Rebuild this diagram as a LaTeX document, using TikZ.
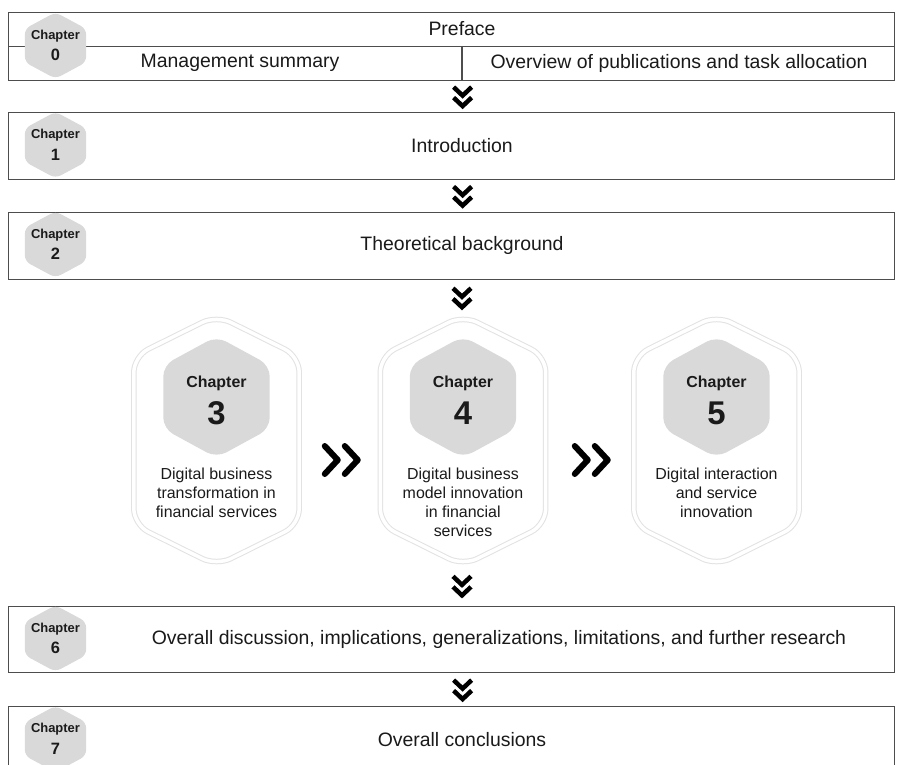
\documentclass[tikz,border=0pt]{standalone}
\usepackage{fontspec}
\setmainfont{Liberation Sans}
\usetikzlibrary{calc}

\definecolor{boxline}{HTML}{4D4D4D}
\definecolor{hexgray}{HTML}{D9D9D9}
\definecolor{halo}{HTML}{E2E2E2}
\definecolor{ink}{HTML}{1A1A1A}

\tikzset{
  chapbox/.style={draw=boxline, line width=1.2bp, inner sep=0, minimum width=886bp, anchor=north west},
  divider/.style={draw=boxline, line width=1.2bp},
  bodytext/.style={text=ink, font=\fontsize{19.5}{22}\selectfont, inner sep=0},
  smallhexnode/.style={inner sep=0, minimum width=61bp, minimum height=66bp},
  innerhexnode/.style={inner sep=0, minimum width=106bp, minimum height=121bp},
  outerhexnode/.style={inner sep=0, minimum width=165bp, minimum height=250bp},
  smallcap/.style={text=ink, font=\bfseries\fontsize{13}{14}\selectfont, inner sep=0},
  smallnum/.style={text=ink, font=\bfseries\fontsize{16.5}{18}\selectfont, inner sep=0},
  bigcap/.style={text=ink, font=\bfseries\fontsize{16}{18}\selectfont, inner sep=0},
  bignum/.style={text=ink, font=\bfseries\fontsize{33}{36}\selectfont, inner sep=0},
  desc/.style={text=ink, font=\fontsize{16}{19}\selectfont, align=center, inner sep=0, anchor=north},
  chevstroke/.style={draw=black, line width=4.5bp, line join=miter, line cap=butt},
  chevside/.style={draw=black, line width=6bp, line join=round, line cap=round},
  hexfillstyle/.style={fill=hexgray},
  halostyle/.style={draw=halo, line width=1bp, double=white, double distance=3.5bp},
  pics/downchev/.style={code={
    \draw[chevstroke] (-9,-9.5) -- (0,-1) -- (9,-9.5);
    \draw[chevstroke] (-9,1) -- (0,9.5) -- (9,1);
  }},
  pics/sidechev/.style={code={
    \draw[chevside] (-17,-14) -- (-4,0) -- (-17,14);
    \draw[chevside] (3,-14) -- (16,0) -- (3,14);
  }},
}

% hexagon with pointed top and bottom, drawn inside the bounding rectangle of a node
% #1 node, #2 drop from the top point to the side corners, #3 corner radius, #4 style
\newcommand\hexoutline[4]{%
  \path[#4, rounded corners=#3bp] (#1.east)
    -- ($(#1.south east)+(0,-#2)$) -- (#1.south)
    -- ($(#1.south west)+(0,-#2)$) -- ($(#1.north west)+(0,#2)$)
    -- (#1.north) -- ($(#1.north east)+(0,#2)$) -- cycle;}

\begin{document}
\begin{tikzpicture}[x=1bp, y=-1bp]
\useasboundingbox (0,0) rectangle (903,765);
\clip (0,0) rectangle (903,765);
\fill[white] (0,0) rectangle (903,765);

% ---- chapter frames ----
\node[chapbox, minimum height=68bp] (b0) at (8,12) {};
\node[chapbox, minimum height=67bp] (b1) at (8,112) {};
\node[chapbox, minimum height=67bp] (b2) at (8,212) {};
\node[chapbox, minimum height=66bp] (b6) at (8,606) {};
\node[chapbox, minimum height=67bp] (b7) at (8,706) {};

% split of the preface frame
\coordinate (splitL) at ($(b0.west)+(0,0)$);
\coordinate (splitR) at ($(b0.east)+(0,0)$);
\draw[divider] (splitL) -- (splitR);
\coordinate (divTop) at (462,46);
\coordinate (divBot) at (462,80);
\draw[divider] (divTop) -- (divBot);

% ---- small chapter badges ----
\foreach \n/\y in {0/45.5, 1/145, 2/244.5, 6/638.5, 7/739}{
  \node[smallhexnode] (h\n) at (55.5,\y) {};
  \hexoutline{h\n}{16.5}{6}{hexfillstyle}
  \node[smallcap] (hc\n) at ($(h\n.center)+(0,-9.5)$) {Chapter};
  \node[smallnum] (hn\n) at ($(h\n.center)+(0,9.5)$) {\n};
}

% ---- frame texts ----
\node[bodytext] (t0a) at (462,29) {Preface};
\node[bodytext] (t0b) at (240,63) {Management summary};
\node[bodytext] (t0c) at (679,63) {Overview of publications and task allocation};
\node[bodytext] (t1) at (462,146) {Introduction};
\node[bodytext] (t2) at (462,245.5) {Theoretical background};
\node[bodytext] (t6) at (499,639) {Overall discussion, implications, generalizations, limitations, and further research};
\node[bodytext] (t7) at (462,740) {Overall conclusions};

% ---- research chapters ----
\foreach \n/\x in {3/216.5, 4/463, 5/716.5}{
  \node[outerhexnode] (o\n) at (\x,440.5) {};
  \hexoutline{o\n}{41}{16}{halostyle}
  \node[innerhexnode] (g\n) at (\x,397) {};
  \hexoutline{g\n}{29}{11}{hexfillstyle}
  \node[bigcap] (gc\n) at ($(g\n.center)+(0,-14)$) {Chapter};
  \node[bignum] (gn\n) at ($(g\n.center)+(0,16)$) {\n};
}
\node[desc] (d3) at (216.5,468) {Digital business\\transformation in\\financial services};
\node[desc] (d4) at (463,468) {Digital business\\model innovation\\in financial\\services};
\node[desc] (d5) at (716.5,468) {Digital interaction\\and service\\innovation};

% ---- flow markers ----
\pic at ($(b0.south)!0.5!(b1.north)+(462-451,0)$) {downchev};
\pic at ($(b1.south)!0.5!(b2.north)+(462-451,0)$) {downchev};
\path let \p1=(b2.south), \p2=(o4.north) in coordinate (m24) at (462,{(\y1+\y2)/2});
\pic at (m24) {downchev};
\path let \p1=(o4.south), \p2=(b6.north) in coordinate (m46) at (462,{(\y1+\y2)/2});
\pic at (m46) {downchev};
\pic at ($(b6.south)!0.5!(b7.north)+(462-451,0)$) {downchev};

\pic at ($(o3.east)!0.5!(o4.west)+(2,19.5)$) {sidechev};
\pic at ($(o4.east)!0.5!(o5.west)+(2,19.5)$) {sidechev};
\end{tikzpicture}
\end{document}
